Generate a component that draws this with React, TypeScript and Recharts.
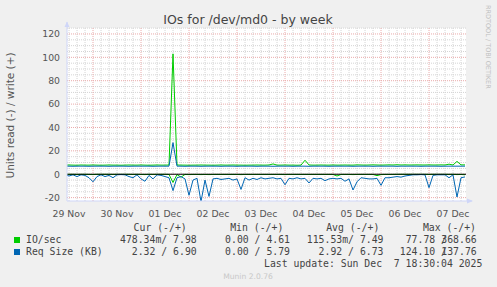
import { LineChart, Line, XAxis, YAxis, CartesianGrid, ReferenceLine } from 'recharts';

// hours since 29 Nov 00:00, one sample every 2 hours starting at 10h
const START_HOUR = 10;
const STEP_HOURS = 2;

const dayLabels = ['29 Nov', '30 Nov', '01 Dec', '02 Dec', '03 Dec', '04 Dec', '05 Dec', '06 Dec', '07 Dec'];
const dayTicks = [12, 36, 60, 84, 108, 132, 156, 180, 204]; // labels sit at noon
const yTicks = [-20, 0, 20, 40, 60, 80, 100, 120];

// IO/sec read (drawn negative)
const ioRead = [
  0.1, 0.1, 0.1, 0.2, 0.1, 0.1, 0.2, 0.3, 0.1, 0.1,
  0.1, 0.1, 0.2, 0.1, 0.1, 0.1, 0.1, 0.2, 0.1, 0.2,
  0.3, 0.1, 0.2, 0.1, 0.1, 0.1, 0.2, 7, 0.3, 2.5,
  0.2, 0.3, 0.2, 0.2, 0.3, 0.2, 0.3, 0.2, 0.2, 0.2,
  0.2, 0.2, 0.2, 0.2, 0.3, 0.2, 0.2, 0.2, 0.2, 0.2,
  0.2, 0.2, 0.2, 0.2, 0.2, 0.3, 0.2, 0.2, 0.2, 0.2,
  0.2, 0.2, 0.2, 0.2, 0.2, 0.2, 0.2, 0.2, 1.5, 0.2,
  0.2, 0.2, 0.3, 0.2, 0.2, 0.2, 0.2, 0.2, 1.2, 0.3,
  0.2, 0.2, 0.2, 0.1, 0.1, 0.1, 0.1, 0.1, 0.1, 0.1,
  0.1, 0.2, 0.1, 0.1, 0.1, 0.1, 0.2, 0.1, 0.3, 0.2,
  0.48,
];

// IO/sec write
const ioWrite = [
  7.8, 7.9, 7.8, 7.7, 7.9, 7.8, 7.8, 7.9, 7.8, 7.7,
  7.8, 7.9, 7.8, 7.8, 7.7, 7.8, 7.9, 7.8, 7.8, 7.9,
  7.8, 7.7, 7.8, 7.9, 7.8, 7.8, 7.9, 103, 7.9, 7.8,
  7.8, 7.7, 7.8, 7.8, 7.9, 7.8, 7.8, 7.7, 7.8, 7.9,
  7.8, 7.8, 7.9, 7.8, 7.8, 7.7, 7.8, 7.8, 7.9, 7.8,
  7.8, 7.9, 8.8, 7.8, 7.8, 7.9, 7.8, 7.8, 7.7, 7.8,
  12, 7.9, 7.8, 7.8, 7.9, 7.8, 7.8, 7.9, 7.8, 7.8,
  7.9, 7.8, 7.8, 8.0, 7.9, 7.8, 7.9, 8.0, 7.9, 7.8,
  7.9, 8.0, 7.9, 8.1, 7.9, 8.0, 7.9, 7.9, 8.0, 7.9,
  7.9, 8.0, 7.9, 7.9, 8.0, 7.9, 8.6, 7.9, 11, 8.0,
  7.98,
];

// Req Size (KB) read (drawn negative)
const sizeRead = [
  0.5, 1.5, 0.5, 2, 0.5, 1, 3, 6.5, 2, 0.5,
  2, 1, 3, 0.5, 0.3, 0.5, 2, 3, 0.5, 4,
  6, 1, 4, 0.5, 1, 2, 3, 14, 3, 2,
  4, 18, 5, 3.5, 23.5, 5, 19, 4, 3.5, 4.5,
  4, 3.5, 5, 4, 13, 3, 5, 3.5, 4.5, 3,
  4, 3.5, 3, 4, 3.5, 9, 3.5, 4, 3, 4,
  3.5, 7.5, 3.5, 4, 3.5, 5.5, 4, 3.5, 4, 3.5,
  6, 4, 13.5, 6.5, 3, 3.5, 4, 4, 3.5, 9.5,
  3, 3, 2.5, 2, 2.5, 1.5, 1, 0.5, 0.5, 0.3,
  0.5, 11.5, 1, 0.5, 0.5, 0.5, 3, 0.5, 19.5, 3,
  2.3,
];

// Req Size (KB) write
const sizeWrite = [
  6.9, 6.9, 6.8, 6.9, 6.9, 6.9, 6.8, 6.9, 6.9, 6.9,
  6.9, 6.8, 6.9, 6.9, 6.9, 6.9, 6.8, 6.9, 6.9, 6.9,
  6.9, 6.9, 6.8, 6.9, 6.9, 6.9, 6.9, 27, 6.9, 6.9,
  6.8, 6.9, 6.9, 6.9, 6.8, 6.9, 6.9, 6.9, 6.9, 6.8,
  6.9, 6.9, 6.9, 6.8, 6.9, 6.9, 6.9, 6.9, 6.8, 6.9,
  6.9, 6.9, 6.8, 6.9, 6.9, 6.9, 6.9, 6.8, 6.9, 6.9,
  6.9, 6.8, 6.9, 6.9, 6.9, 6.9, 6.8, 6.9, 6.9, 6.9,
  6.9, 6.9, 6.8, 6.9, 6.9, 6.9, 6.9, 6.8, 6.9, 6.9,
  6.9, 6.9, 6.9, 6.8, 6.9, 6.9, 6.9, 6.9, 6.9, 6.8,
  6.9, 6.9, 6.9, 6.9, 6.8, 6.9, 6.9, 6.9, 6.9, 6.9,
  6.9,
];

const data = ioRead.map((v, i) => ({
  h: START_HOUR + i * STEP_HOURS,
  ioRead: -v,
  ioWrite: ioWrite[i],
  sizeRead: -sizeRead[i],
  sizeWrite: sizeWrite[i],
}));

// grid: minor every 4h / 5 units, major at midnight / every 20 units
const minorX: number[] = [];
for (let h = 12; h <= 210; h += 4) if (h % 24 !== 0) minorX.push(h);
const majorX: number[] = [];
for (let h = 24; h <= 210; h += 24) majorX.push(h);
const minorY: number[] = [];
for (let v = -20; v <= 125; v += 5) if (v % 20 !== 0) minorY.push(v);

const SANS = 'DejaVu Sans';
const MONO = 'DejaVu Sans Mono';
const TEXT = '#555555';
const AXIS = '#cfd6f8';
const MGRID = '#eaaaaa';

export default function App() {
  const mono = {
    fontFamily: MONO,
    fontSize: 9.8,
    fill: '#444444',
    xmlSpace: 'preserve',
    style: { whiteSpace: 'pre' as const },
  };
  return (
    <div style={{ position: 'fixed', left: 0, top: 0, width: 497, height: 287, background: '#f0f0f0' }}>
      <LineChart width={497} height={287} data={data} margin={{ top: 28, right: 31, bottom: 66, left: 0 }}>
        <CartesianGrid
          fill="#ffffff"
          stroke="#d4d4d4"
          strokeDasharray="1 1"
          horizontalValues={minorY}
          verticalValues={minorX}
        />
        {majorX.map((h) => (
          <ReferenceLine key={`mx${h}`} x={h} stroke={MGRID} strokeDasharray="1 1" />
        ))}
        {yTicks.map((v) => (
          <ReferenceLine key={`my${v}`} y={v} stroke={MGRID} strokeDasharray="1 1" />
        ))}
        <XAxis
          type="number"
          dataKey="h"
          domain={[11, 210.5]}
          allowDataOverflow
          ticks={dayTicks}
          interval={0}
          tickFormatter={(_v, i) => dayLabels[i]}
          height={20}
          axisLine={{ stroke: AXIS }}
          tickLine={false}
          tickSize={0}
          tickMargin={9}
          tick={{ fill: TEXT, fontSize: 9.3, fontFamily: SANS }}
        />
        <YAxis
          type="number"
          domain={[-22.9, 125.1]}
          allowDataOverflow
          ticks={yTicks}
          interval={0}
          width={67}
          axisLine={{ stroke: AXIS }}
          tickLine={false}
          tickSize={0}
          tickMargin={7}
          tick={{ fill: TEXT, fontSize: 9.3, fontFamily: SANS }}
        />
        <Line dataKey="ioRead" stroke="#00cc00" strokeWidth={1} dot={false} isAnimationActive={false} />
        <Line dataKey="ioWrite" stroke="#00cc00" strokeWidth={1} dot={false} isAnimationActive={false} />
        <Line dataKey="sizeRead" stroke="#0066b3" strokeWidth={1} dot={false} isAnimationActive={false} />
        <Line dataKey="sizeWrite" stroke="#0066b3" strokeWidth={1} dot={false} isAnimationActive={false} />
        <ReferenceLine y={0} stroke="#000000" strokeWidth={1} />
      </LineChart>

      <svg width={497} height={287} style={{ position: 'absolute', left: 0, top: 0, pointerEvents: 'none' }}>
        <text x={248} y={24} textAnchor="middle" fontFamily={SANS} fontSize={12.5} fill="#444444">
          IOs for /dev/md0 - by week
        </text>
        <text
          x={10}
          y={115.5}
          transform="rotate(-90 10 115.5)"
          textAnchor="middle"
          dominantBaseline="central"
          fontFamily={SANS}
          fontSize={10.5}
          fill={TEXT}
        >
          Units read (-) / write (+)
        </text>
        <text x={485.5} y={5} transform="rotate(90 485.5 5)" fontFamily={SANS} fontSize={6.5} fill="#c0c0c0">
          RRDTOOL / TOBI OETIKER
        </text>

        {/* axis arrows */}
        <line x1={67} y1={28} x2={67} y2={22} stroke={AXIS} />
        <polygon points="64.5,27 69.5,27 67,21.5" fill={AXIS} />
        <line x1={466} y1={201} x2={472} y2={201} stroke={AXIS} />
        <polygon points="467,198.5 467,203.5 473,201" fill={AXIS} />

        {/* legend */}
        <text x={186.7} y={231} textAnchor="end" {...mono}>Cur (-/+)</text>
        <text x={283.3} y={231} textAnchor="end" {...mono}>Min (-/+)</text>
        <text x={379.3} y={231} textAnchor="end" {...mono}>Avg (-/+)</text>
        <text x={476} y={231} textAnchor="end" {...mono}>Max (-/+)</text>

        <rect x={14} y={237} width={6} height={6} fill="#00cc00" />
        <text x={26} y={243.3} {...mono}>IO/sec</text>
        <text x={196.7} y={243.3} textAnchor="end" {...mono}>478.34m/ 7.98</text>
        <text x={290} y={243.3} textAnchor="end" {...mono}>0.00 / 4.61</text>
        <text x={383.5} y={243.3} textAnchor="end" {...mono}>115.53m/ 7.49</text>
        <text x={447} y={243.3} textAnchor="end" {...mono}>77.78 /</text>
        <text x={476.7} y={243.3} textAnchor="end" {...mono}>368.66</text>

        <rect x={14} y={249} width={6} height={6} fill="#0066b3" />
        <text x={26} y={255.3} {...mono}>Req Size (KB)</text>
        <text x={196.7} y={255.3} textAnchor="end" {...mono}>2.32 / 6.90</text>
        <text x={290} y={255.3} textAnchor="end" {...mono}>0.00 / 5.79</text>
        <text x={383.5} y={255.3} textAnchor="end" {...mono}>2.92 / 6.73</text>
        <text x={447} y={255.3} textAnchor="end" {...mono}>124.10 /</text>
        <text x={476.7} y={255.3} textAnchor="end" {...mono}>137.76</text>

        <text x={482.3} y={266.7} textAnchor="end" {...mono}>Last update: Sun Dec  7 18:30:04 2025</text>
        <text x={248} y={278.7} textAnchor="middle" fontFamily={SANS} fontSize={7.6} fill="#c8c8c8">
          Munin 2.0.76
        </text>
      </svg>
    </div>
  );
}
